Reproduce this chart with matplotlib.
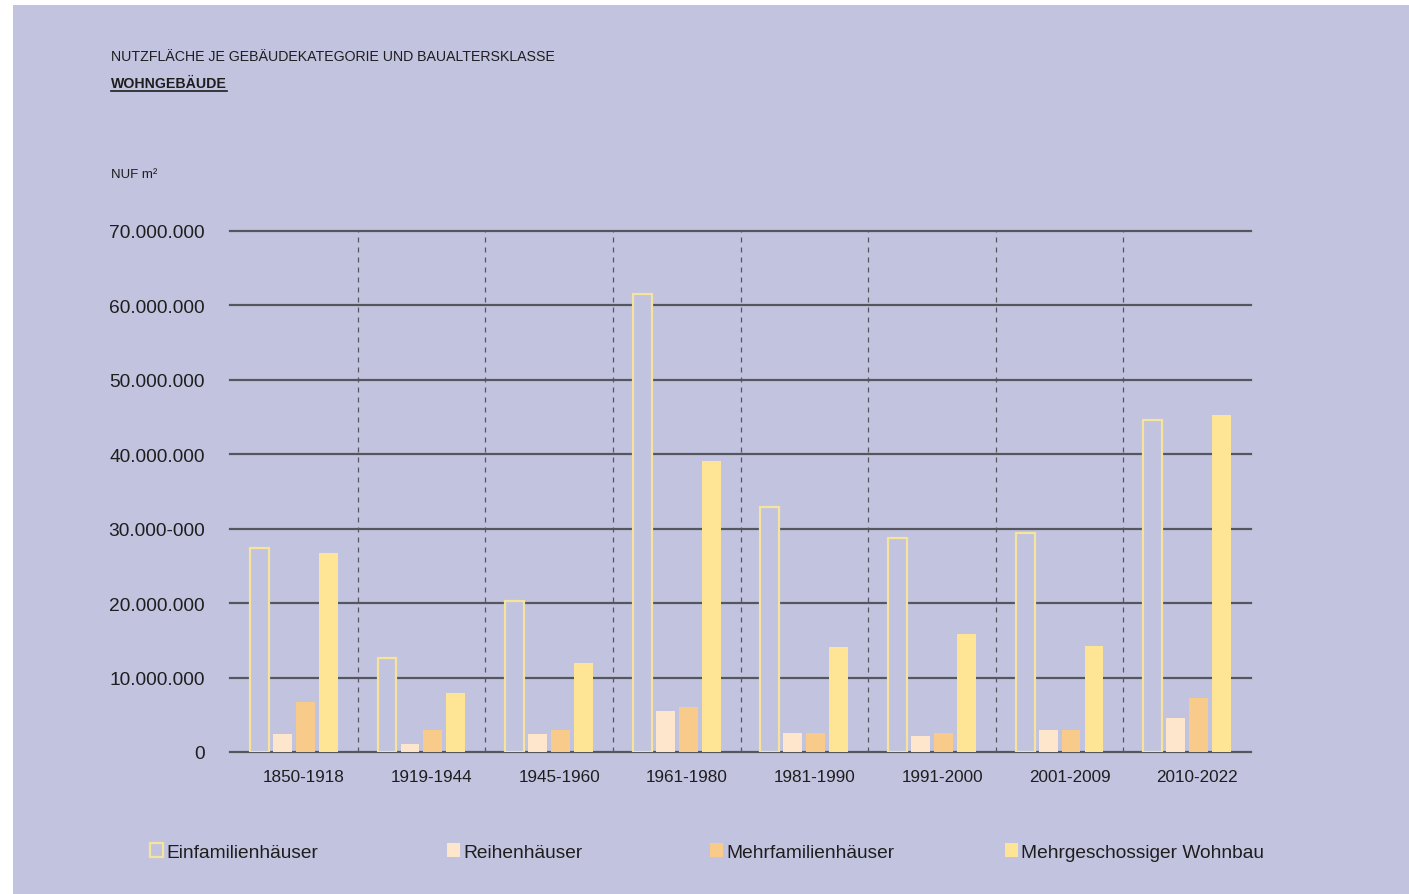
import numpy as np
import matplotlib.pyplot as plt
from matplotlib.patches import Rectangle, Patch

plt.rcParams['font.family'] = ['Liberation Sans', 'DejaVu Sans']

# Daten (NUF m²)
perioden = ["1850-1918", "1919-1944", "1945-1960", "1961-1980",
            "1981-1990", "1991-2000", "2001-2009", "2010-2022"]
einfamilien = [27.4e6, 12.6e6, 20.3e6, 61.5e6, 32.9e6, 28.7e6, 29.4e6, 44.6e6]
reihen = [2.4e6, 1.1e6, 2.4e6, 5.5e6, 2.5e6, 2.2e6, 3.0e6, 4.6e6]
mehrfamilien = [6.7e6, 3.0e6, 2.9e6, 6.1e6, 2.6e6, 2.6e6, 3.0e6, 7.3e6]
mehrgeschossig = [26.7e6, 7.9e6, 12.0e6, 39.1e6, 14.1e6, 15.8e6, 14.3e6, 45.3e6]

y_ticks = [0, 10e6, 20e6, 30e6, 40e6, 50e6, 60e6, 70e6]
y_labels = ["0", "10.000.000", "20.000.000", "30.000-000", "40.000.000",
            "50.000.000", "60.000.000", "70.000.000"]

bg = '#c2c3df'
grid_col = '#55565e'
c_efh = '#f6e39c'
c_rh = '#fde6cb'
c_mfh = '#f8cb8a'
c_mgw = '#fde595'
txt = '#1e1e1e'

fig = plt.figure(figsize=(14.09, 8.95), dpi=100, facecolor='white')
fig.patches.append(Rectangle((13 / 1409, 0), 1 - 13 / 1409, 1 - 6 / 895,
                             transform=fig.transFigure, facecolor=bg,
                             edgecolor='none', zorder=-10))

ax = fig.add_axes([230 / 1409, 1 - 753 / 895, 1021 / 1409, 521 / 895])
ax.set_facecolor('none')

x = np.arange(len(perioden))
w = 0.148
step = 0.18

ax.bar(x - 1.5 * step, einfamilien, w, color=bg, edgecolor=c_efh, linewidth=1.6, zorder=3)
ax.bar(x - 0.5 * step, reihen, w, color=c_rh, zorder=3)
ax.bar(x + 0.5 * step, mehrfamilien, w, color=c_mfh, zorder=3)
ax.bar(x + 1.5 * step, mehrgeschossig, w, color=c_mgw, zorder=3)

ax.set_xlim(-0.5, len(perioden) - 0.5)
ax.set_ylim(0, 70e6)

for yv in y_ticks:
    ax.axhline(yv, color=grid_col, linewidth=1.6, zorder=1, clip_on=False)
for xv in x[:-1] + 0.5:
    ax.axvline(xv, color=grid_col, linewidth=0.9, linestyle=(0, (4, 4)), zorder=1)

ax.set_yticks(y_ticks)
ax.set_yticklabels(y_labels, fontsize=13.8, color=txt)
ax.set_xticks(x + 0.08)
ax.set_xticklabels(perioden, fontsize=12.3, color=txt)
ax.tick_params(axis='y', length=0, pad=18)
ax.tick_params(axis='x', length=0, pad=12)
for s in ax.spines.values():
    s.set_visible(False)

# Titel
fig.text(111 / 1409, 1 - 57 / 895, "NUTZFLÄCHE JE GEBÄUDEKATEGORIE UND BAUALTERSKLASSE",
         fontsize=10.2, color=txt, va='center')
fig.text(111 / 1409, 1 - 84 / 895, "WOHNGEBÄUDE", fontsize=10.2,
         fontweight='bold', color=txt, va='center')
fig.add_artist(plt.Line2D([111 / 1409, 227 / 1409], [1 - 92 / 895, 1 - 92 / 895],
                          transform=fig.transFigure, color=txt, linewidth=1.2))
fig.text(111 / 1409, 1 - 175 / 895, "NUF m²", fontsize=9.5, color=txt, va='center')

# Legende - jeder Eintrag einzeln platziert
handles = [
    Patch(facecolor=bg, edgecolor=c_efh, linewidth=1.6, label="Einfamilienhäuser"),
    Patch(facecolor=c_rh, label="Reihenhäuser"),
    Patch(facecolor=c_mfh, label="Mehrfamilienhäuser"),
    Patch(facecolor=c_mgw, label="Mehrgeschossiger Wohnbau"),
]
leg_x = [150, 447, 710, 1005]
for h, lx in zip(handles, leg_x):
    fig.legend(handles=[h], loc='center left', bbox_to_anchor=(lx / 1409, 1 - 853 / 895),
               frameon=False, fontsize=13.8, handlelength=0.7, handleheight=0.7,
               handletextpad=0.15, borderaxespad=0, borderpad=0, labelcolor=txt)

fig.savefig('out.png', dpi=100, facecolor=fig.get_facecolor())
